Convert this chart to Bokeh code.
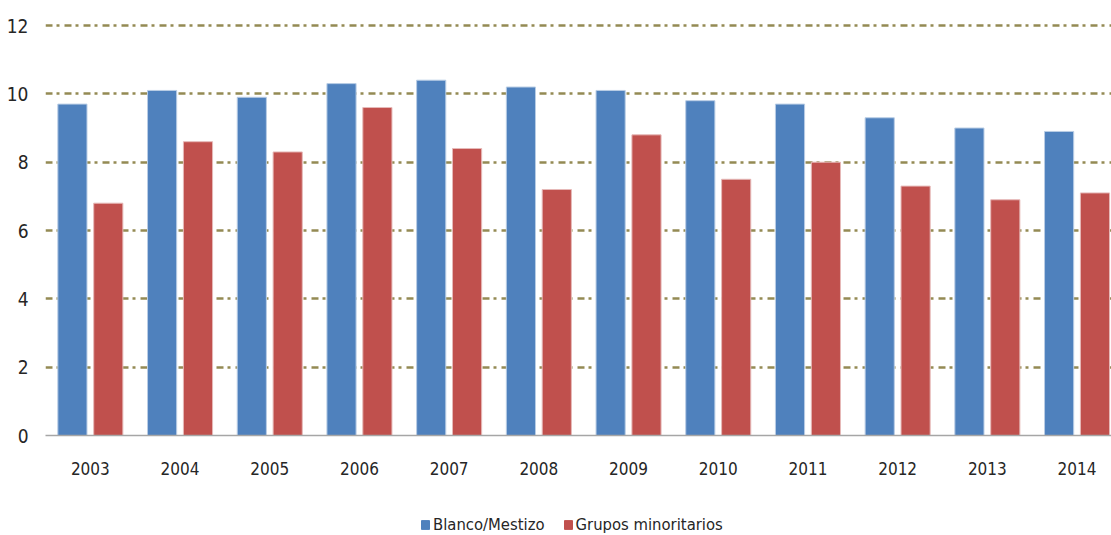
from bokeh.plotting import figure
from bokeh.layouts import column
from bokeh.models import Range1d, FixedTicker, ColumnDataSource, Legend, LegendItem
from bokeh.embed import file_html
from bokeh.resources import INLINE

years = ["2003", "2004", "2005", "2006", "2007", "2008", "2009", "2010", "2011", "2012", "2013", "2014"]
blanco = [9.7, 10.1, 9.9, 10.3, 10.4, 10.2, 10.1, 9.8, 9.7, 9.3, 9.0, 8.9]
grupos = [6.8, 8.6, 8.3, 9.6, 8.4, 7.2, 8.8, 7.5, 8.0, 7.3, 6.9, 7.1]
y_ticks = [0, 2, 4, 6, 8, 10, 12]
series_names = ["Blanco/Mestizo", "Grupos minoritarios"]
colors = ["#4F81BD", "#C0504D"]
edges = ["#B9CDE5", "#E6B9B8"]

FONT = "DejaVu Sans Condensed"
TXT = "#262626"
xs = list(range(len(years)))
src = ColumnDataSource(dict(
    xb=[x - 0.2 for x in xs], xr=[x + 0.2 for x in xs], b=blanco, g=grupos))

p = figure(width=1111, height=495, output_backend="svg", toolbar_location=None,
           x_range=Range1d(-0.5, 11.384), y_range=Range1d(0, 12.44),
           min_border_left=45, min_border_right=0, min_border_top=10, min_border_bottom=60)
p.outline_line_color = None

p.vbar(x="xb", top="b", width=0.325, source=src, fill_color=colors[0], line_color=edges[0], line_width=1)
p.vbar(x="xr", top="g", width=0.325, source=src, fill_color=colors[1], line_color=edges[1], line_width=1)

p.xgrid.grid_line_color = None
p.ygrid.grid_line_color = "#948A54"
p.ygrid.grid_line_width = 2.5
p.ygrid.grid_line_dash = "7 4 3 5"
p.ygrid.ticker = FixedTicker(ticks=[2, 4, 6, 8, 10, 12])

p.yaxis.ticker = FixedTicker(ticks=y_ticks)
p.yaxis.axis_line_color = None
p.yaxis.major_tick_line_color = None
p.yaxis.major_tick_out = 0
p.yaxis.minor_tick_line_color = None
p.yaxis.major_label_text_font = FONT
p.yaxis.major_label_text_font_size = "19px"
p.yaxis.major_label_text_color = TXT
p.yaxis.major_label_standoff = 17

p.xaxis.ticker = FixedTicker(ticks=xs)
p.xaxis.major_label_overrides = {i: y for i, y in enumerate(years)}
p.xaxis.axis_line_color = "#A6A6A6"
p.xaxis.axis_line_width = 1.5
p.xaxis.major_tick_line_color = None
p.xaxis.major_tick_out = 0
p.xaxis.minor_tick_line_color = None
p.xaxis.major_label_text_font = FONT
p.xaxis.major_label_text_font_size = "17px"
p.xaxis.major_label_text_color = TXT
p.xaxis.major_label_standoff = 26

# legend strip below the chart
lg = figure(width=1111, height=40, output_backend="svg", toolbar_location=None,
            x_range=Range1d(0, 1), y_range=Range1d(0, 1),
            x_axis_type=None, y_axis_type=None,
            min_border=0, outline_line_color=None)
lg.grid.visible = False
offscreen = ColumnDataSource(dict(x=[5], top=[1]))
r1 = lg.vbar(x="x", top="top", width=0.1, source=offscreen, fill_color=colors[0], line_color=colors[0])
r2 = lg.vbar(x="x", top="top", width=0.1, source=offscreen, fill_color=colors[1], line_color=colors[1])
legend = Legend(items=[LegendItem(label=series_names[0], renderers=[r1]),
                       LegendItem(label=series_names[1], renderers=[r2])],
                orientation="horizontal", location=(375, 1),
                label_text_font=FONT, label_text_font_size="16.5px", label_text_color=TXT,
                glyph_width=10, glyph_height=11, spacing=18, label_standoff=3,
                background_fill_alpha=0, border_line_color=None, padding=0, margin=0)
lg.add_layout(legend, "center")

layout = column(p, lg, spacing=0)
open("out.html", "w").write(file_html(layout, INLINE))
